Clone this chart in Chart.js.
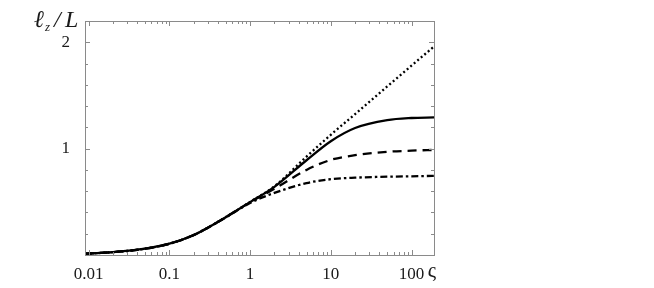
<!DOCTYPE html>
<html>
<head>
<meta charset="utf-8">
<script src="https://cdn.jsdelivr.net/npm/chart.js@4"></script>
<style>
html,body{margin:0;padding:0;background:#fff;}
canvas{display:block;}
</style>
</head>
<body>
<canvas id="c" width="654" height="288"></canvas>
<script>
// ---- data ----
const sigma       = [0.009, 0.01, 0.02, 0.05, 0.1, 0.2, 0.5, 1, 2, 5, 10, 20, 50, 100, 190];
const solidVals   = [0.012, 0.014, 0.027, 0.059, 0.106, 0.188, 0.356, 0.497, 0.641, 0.891, 1.07, 1.194, 1.268, 1.288, 1.294];
const dottedVals  = [0.012, 0.014, 0.027, 0.059, 0.106, 0.188, 0.357, 0.499, 0.646, 0.925, 1.13, 1.325, 1.585, 1.78, 1.96];
const dashedVals  = [0.012, 0.014, 0.027, 0.059, 0.106, 0.188, 0.355, 0.496, 0.622, 0.80, 0.894, 0.938, 0.970, 0.981, 0.988];
const dashDotVals = [0.012, 0.014, 0.027, 0.059, 0.106, 0.187, 0.353, 0.49, 0.584, 0.676, 0.7125, 0.727, 0.736, 0.740, 0.744];

const xMajorTicks = [0.01, 0.1, 1, 10, 100];
const xTickLabels = ['0.01', '0.1', '1', '10', '100'];
const yMajorTicks = [1, 2];
const yTickLabels = ['1', '2'];
const yMinorStep = 0.2;

const pts = vals => sigma.map((s, i) => ({x: s, y: vals[i]}));
const FRAME = '#8a8a8a';
const TEXT = '#1a1a1a';
const SERIF = '"Liberation Serif", "Times New Roman", Times, serif';

const framePlugin = {
  id: 'frame',
  afterDraw(chart) {
    const ctx = chart.ctx;
    const {left, right, top, bottom} = chart.chartArea;
    const xs = chart.scales.x, ys = chart.scales.y;
    ctx.save();
    ctx.strokeStyle = FRAME;
    ctx.lineWidth = 1;
    ctx.strokeRect(Math.round(left) + 0.5, Math.round(top) + 0.5, Math.round(right - left), Math.round(bottom - top));
    ctx.beginPath();
    for (let d = -3; d <= 2; d++) {
      for (let m = 1; m <= 9; m++) {
        const v = m * Math.pow(10, d);
        if (v < xs.min || v > xs.max) continue;
        const px = Math.round(xs.getPixelForValue(v)) + 0.5;
        const len = m === 1 ? 5 : 3;
        ctx.moveTo(px, bottom); ctx.lineTo(px, bottom - len);
        ctx.moveTo(px, top); ctx.lineTo(px, top + len);
      }
    }
    for (let k = 1; k * yMinorStep <= ys.max + 1e-9; k++) {
      const v = k * yMinorStep;
      const py = Math.round(ys.getPixelForValue(v)) + 0.5;
      const len = Math.abs(v - Math.round(v)) < 1e-6 ? 5 : 3;
      ctx.moveTo(left, py); ctx.lineTo(left + len, py);
      ctx.moveTo(right, py); ctx.lineTo(right - len, py);
    }
    ctx.stroke();
    // axis labels
    ctx.fillStyle = TEXT;
    ctx.textBaseline = 'alphabetic';
    ctx.textAlign = 'left';
    ctx.font = 'italic 24px ' + SERIF;
    ctx.fillText('\u2113', 34, 27);
    ctx.font = 'italic 13px ' + SERIF;
    ctx.fillText('z', 45, 31);
    ctx.font = 'italic 24px ' + SERIF;
    ctx.fillText('/', 54, 27);
    ctx.fillText('L', 65, 27);
    ctx.font = '21px ' + SERIF;
    ctx.textAlign = 'center';
    ctx.fillText('\u03C2', right - 2, 277);
    ctx.restore();
  }
};

const base = {fill: false, pointRadius: 0, borderColor: '#000', cubicInterpolationMode: 'monotone', borderWidth: 2.3};

new Chart(document.getElementById('c'), {
  type: 'line',
  data: {
    datasets: [
      Object.assign({label: 'dotted', data: pts(dottedVals), borderDash: [2, 2.6]}, base),
      Object.assign({label: 'solid', data: pts(solidVals)}, base),
      Object.assign({label: 'dashed', data: pts(dashedVals), borderDash: [9, 6]}, base),
      Object.assign({label: 'dashdot', data: pts(dashDotVals), borderDash: [7, 3, 2.5, 3]}, base)
    ]
  },
  options: {
    responsive: false,
    devicePixelRatio: 1,
    animation: false,
    layout: {padding: {left: 0, top: 21, right: 220, bottom: 0}},
    plugins: {legend: {display: false}, tooltip: {enabled: false}},
    scales: {
      x: {
        type: 'logarithmic', min: 0.009, max: 190,
        grid: {display: false}, border: {display: false},
        afterBuildTicks: s => { s.ticks = xMajorTicks.map(v => ({value: v})); },
        afterFit: s => { s.height = 33; },
        ticks: {
          autoSkip: false, maxRotation: 0, padding: 1, color: TEXT,
          font: {family: SERIF, size: 17},
          callback: (v) => { const i = xMajorTicks.findIndex(t => Math.abs(t - v) / t < 1e-6); return i >= 0 ? xTickLabels[i] : ''; }
        }
      },
      y: {
        type: 'linear', min: 0, max: 2.2,
        grid: {display: false}, border: {display: false},
        afterBuildTicks: s => { s.ticks = yMajorTicks.map(v => ({value: v})); },
        afterFit: s => { s.width = 85; },
        ticks: {
          padding: 7, color: TEXT,
          font: {family: SERIF, size: 17},
          callback: (v) => { const i = yMajorTicks.indexOf(v); return i >= 0 ? yTickLabels[i] : ''; }
        }
      }
    }
  },
  plugins: [framePlugin]
});
</script>
</body>
</html>
